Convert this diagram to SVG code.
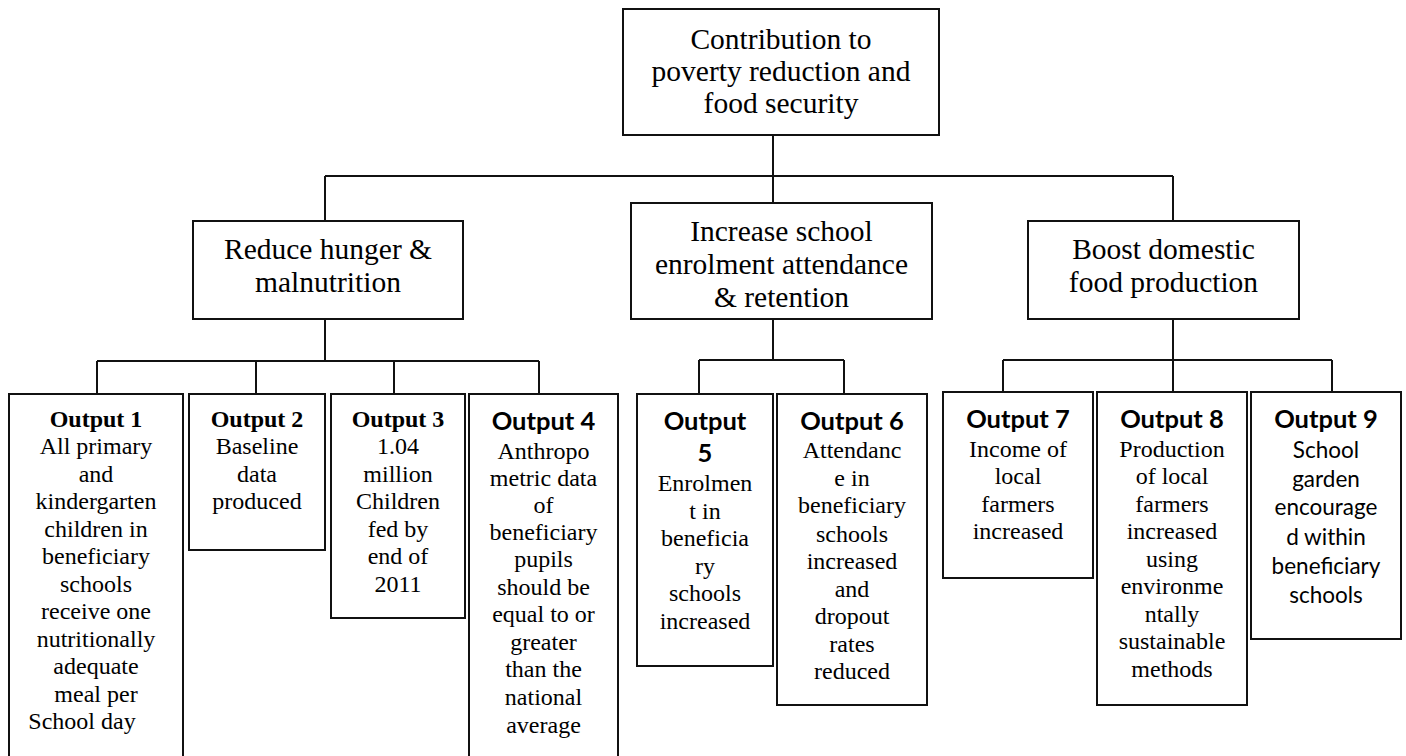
<svg xmlns="http://www.w3.org/2000/svg" width="1406" height="756" viewBox="0 0 1406 756">
<style>
.box{fill:#fff;stroke:#111;stroke-width:2}
.ln{fill:none;stroke:#111;stroke-width:2}
.t{font-family:"Liberation Serif","Times New Roman",serif;fill:#000;text-anchor:middle}
.big{font-size:29.5px}
.sm{font-size:24px}
.hb{font-family:"Liberation Serif","Times New Roman",serif;font-weight:bold;font-size:24px;text-anchor:middle}
.hc{font-family:Lato,"Open Sans",sans-serif;font-weight:bold;font-size:25.5px;text-anchor:middle}
.c{font-family:Lato,"Open Sans",sans-serif;font-size:22.5px;text-anchor:middle}
</style>
<rect width="1406" height="756" fill="#fff"/>
<g id="connectors">
<path class="ln" d="M773 135V203M325 176H1173M325 176V221M1173 176V221"/>
<path class="ln" d="M325 319V361M97 361H539M97 361V394M256 361V394M394 361V394M539 361V394"/>
<path class="ln" d="M773 319V360M699 360H844M699 360V394M844 360V394"/>
<path class="ln" d="M1173 319V360M1003 360H1332M1003 360V392M1173 360V392M1332 360V392"/>
</g>
<g id="goal">
<rect class="box" x="623" y="9" width="316" height="126"/>
<text class="t big" x="781"><tspan x="781" y="49">Contribution to</tspan><tspan x="781" y="81">poverty reduction and</tspan><tspan x="781" y="113">food security</tspan></text>
</g>
<g id="reduce">
<rect class="box" x="193" y="221" width="270" height="98"/>
<text class="t big"><tspan x="328" y="259">Reduce hunger &amp;</tspan><tspan x="328" y="292">malnutrition</tspan></text>
</g>
<g id="increase">
<rect class="box" x="631" y="203" width="301" height="116"/>
<text class="t big"><tspan x="781.5" y="241">Increase school</tspan><tspan x="781.5" y="274">enrolment attendance</tspan><tspan x="781.5" y="307">&amp; retention</tspan></text>
</g>
<g id="boost">
<rect class="box" x="1028" y="221" width="271" height="98"/>
<text class="t big"><tspan x="1163.5" y="259">Boost domestic</tspan><tspan x="1163.5" y="292">food production</tspan></text>
</g>
<g id="output1">
<rect class="box" x="9" y="394" width="174" height="380"/>
<text class="hb" x="96" y="427">Output 1</text>
<text class="t sm"><tspan x="96" y="454">All primary</tspan><tspan x="96" y="481.5">and</tspan><tspan x="96" y="509">kindergarten</tspan><tspan x="96" y="536.5">children in</tspan><tspan x="96" y="564">beneficiary</tspan><tspan x="96" y="591.5">schools</tspan><tspan x="96" y="619">receive one</tspan><tspan x="96" y="646.5">nutritionally</tspan><tspan x="96" y="674">adequate</tspan><tspan x="96" y="701.5">meal per</tspan><tspan x="82" y="729">School day</tspan></text>
</g>
<g id="output2">
<rect class="box" x="189" y="394" width="136" height="156"/>
<text class="hb" x="257" y="427">Output 2</text>
<text class="t sm"><tspan x="257" y="454">Baseline</tspan><tspan x="257" y="481.5">data</tspan><tspan x="257" y="509">produced</tspan></text>
</g>
<g id="output3">
<rect class="box" x="331" y="394" width="134" height="224"/>
<text class="hb" x="398" y="427">Output 3</text>
<text class="t sm"><tspan x="398" y="454">1.04</tspan><tspan x="398" y="481.5">million</tspan><tspan x="398" y="509">Children</tspan><tspan x="398" y="536.5">fed by</tspan><tspan x="398" y="564">end of</tspan><tspan x="398" y="591.5">2011</tspan></text>
</g>
<g id="output4">
<rect class="box" x="469" y="394" width="149" height="380"/>
<text class="hc" x="543.5" y="430">Output 4</text>
<text class="t sm"><tspan x="543.5" y="459">Anthropo</tspan><tspan x="543.5" y="486">metric data</tspan><tspan x="543.5" y="513">of</tspan><tspan x="543.5" y="540">beneficiary</tspan><tspan x="543.5" y="567">pupils</tspan><tspan x="543.5" y="595">should be</tspan><tspan x="543.5" y="622">equal to or</tspan><tspan x="543.5" y="650">greater</tspan><tspan x="543.5" y="677">than the</tspan><tspan x="543.5" y="705">national</tspan><tspan x="543.5" y="733">average</tspan></text>
</g>
<g id="output5">
<rect class="box" x="637" y="394" width="136" height="272"/>
<text class="hc"><tspan x="705" y="430">Output</tspan><tspan x="705" y="462">5</tspan></text>
<text class="t sm"><tspan x="705" y="491">Enrolmen</tspan><tspan x="705" y="518.5">t in</tspan><tspan x="705" y="546">beneficia</tspan><tspan x="705" y="573.5">ry</tspan><tspan x="705" y="601">schools</tspan><tspan x="705" y="629">increased</tspan></text>
</g>
<g id="output6">
<rect class="box" x="777" y="394" width="150" height="311"/>
<text class="hc" x="852" y="430">Output 6</text>
<text class="t sm"><tspan x="852" y="458">Attendanc</tspan><tspan x="852" y="486">e in</tspan><tspan x="852" y="513">beneficiary</tspan><tspan x="852" y="541.5">schools</tspan><tspan x="852" y="569">increased</tspan><tspan x="852" y="596.5">and</tspan><tspan x="852" y="624">dropout</tspan><tspan x="852" y="651.5">rates</tspan><tspan x="852" y="679">reduced</tspan></text>
</g>
<g id="output7">
<rect class="box" x="943" y="392" width="150" height="186"/>
<text class="hc" x="1018" y="428">Output 7</text>
<text class="t sm"><tspan x="1018" y="456.5">Income of</tspan><tspan x="1018" y="484">local</tspan><tspan x="1018" y="512">farmers</tspan><tspan x="1018" y="539">increased</tspan></text>
</g>
<g id="output8">
<rect class="box" x="1097" y="392" width="150" height="313"/>
<text class="hc" x="1172" y="428">Output 8</text>
<text class="t sm"><tspan x="1172" y="456.5">Production</tspan><tspan x="1172" y="484">of local</tspan><tspan x="1172" y="512">farmers</tspan><tspan x="1172" y="539">increased</tspan><tspan x="1172" y="566.5">using</tspan><tspan x="1172" y="594">environme</tspan><tspan x="1172" y="622">ntally</tspan><tspan x="1172" y="649">sustainable</tspan><tspan x="1172" y="677">methods</tspan></text>
</g>
<g id="output9">
<rect class="box" x="1251" y="392" width="150" height="247"/>
<text class="hc" x="1326" y="428">Output 9</text>
<text class="c"><tspan x="1326" y="457.5">School</tspan><tspan x="1326" y="486.5">garden</tspan><tspan x="1326" y="515">encourage</tspan><tspan x="1326" y="545">d within</tspan><tspan x="1326" y="574">beneficiary</tspan><tspan x="1326" y="603">schools</tspan></text>
</g>
</svg>
